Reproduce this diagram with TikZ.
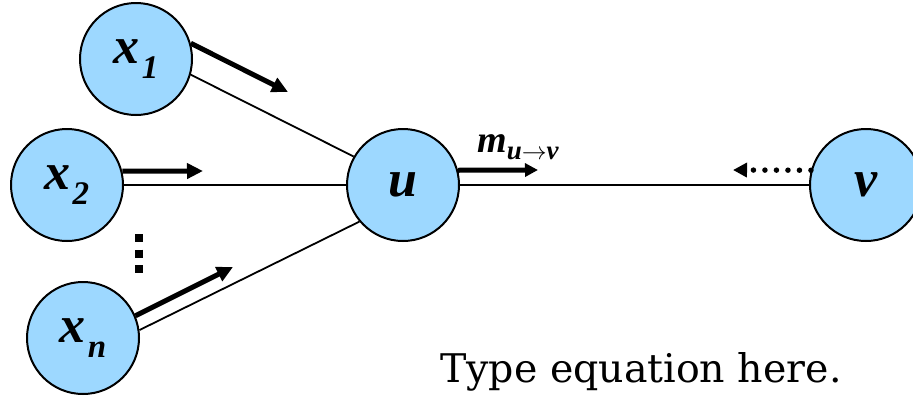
\documentclass[tikz,border=0pt]{standalone}
\usepackage{fontspec}
\setmainfont{Liberation Serif}
\newfontfamily\hintfamily{DejaVu Serif}
\usetikzlibrary{arrows.meta}
\definecolor{ink}{HTML}{000000}
\definecolor{nodeblue}{HTML}{9DD8FF}
\newcommand{\varfont}{\fontsize{52}{52}\selectfont\bfseries\itshape}
\newcommand{\idxfont}{\fontsize{33}{33}\selectfont\bfseries\itshape}
\newcommand{\msgfont}{\fontsize{38}{38}\selectfont\bfseries\itshape}
\newcommand{\msgidxfont}{\fontsize{27}{27}\selectfont\bfseries\itshape}
% variable with a lowered index, e.g. \vsub{x}{1}
\newcommand{\vsub}[2]{#1\kern2pt\raisebox{-0.28em}{\idxfont #2}}
\tikzset{
  every picture/.style = {line join=round},
  var/.style   = {circle, draw=ink, line width=2pt, fill=nodeblue,
                  minimum size=112pt, inner sep=0pt, font=\varfont},
  edge/.style  = {ink, line width=1.8pt},
  msg/.style   = {ink, line width=5pt, -{Triangle[length=16pt, width=15pt]}},
  back/.style  = {ink, line width=5.5pt, line cap=round, dash pattern=on 0pt off 11.5pt,
                  -{Triangle[length=14pt, width=14pt]}},
}

\begin{document}
\begin{tikzpicture}[x=1pt, y=-1pt]
  \useasboundingbox (0,0) rectangle (913,397);

  % variable nodes
  \node[var] (x1) at (136,59)  {\vsub{x}{1}};
  \node[var] (x2) at (67,185)  {\vsub{x}{2}};
  \node[var] (xn) at (83,338)  {\vsub{x}{n}};
  \node[var] (u)  at (403,185) {u};
  \node[var] (v)  at (866,185) {v};

  % graph edges
  \draw[edge] (x1.-16) -- (u.150);
  \draw[edge] (x2) -- (u);
  \draw[edge] (xn.8) -- (u.220);
  \draw[edge] (u) -- (v);

  % incoming messages
  \coordinate (x1tip) at (288,92);
  \coordinate (x2tip) at (203,171);
  \coordinate (xntip) at (233,267);
  \draw[msg] (x1.16) -- (x1tip);
  \draw[msg] (x2.14) -- (x2tip);
  \draw[msg] (xn.23) -- (xntip);

  % vertical ellipsis between x2 and xn
  \draw[ink, line width=8pt, dash pattern=on 8pt off 7.5pt] (139,234) -- (139,273);

  % message u -> v and the reverse one
  \coordinate (utip) at (538,170);
  \coordinate (vtip) at (733,170);
  \draw[msg, -{Triangle[length=13pt, width=13pt]}] (u.15) -- (utip);
  \draw[back] (v.165) -- (vtip);
  \node[anchor=base west, font=\msgfont, inner sep=0pt] (mlab) at (477,152)
    {m\raisebox{-0.2em}{\msgidxfont u$\rightarrow$v}};

  \node[anchor=base west, inner sep=0pt, font=\hintfamily\fontsize{39.5}{39.5}\selectfont] (hint) at (440,382)
    {Type equation here.};
\end{tikzpicture}
\end{document}
